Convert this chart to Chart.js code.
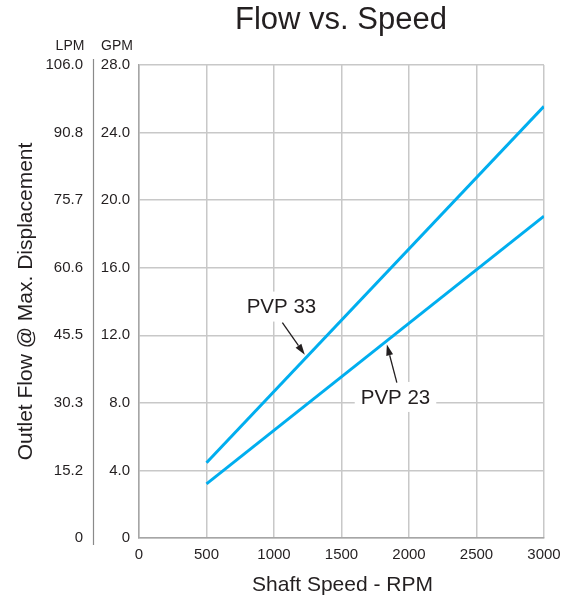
<!DOCTYPE html>
<html>
<head>
<meta charset="utf-8">
<script src="https://cdn.jsdelivr.net/npm/chart.js@4/dist/chart.umd.min.js"></script>
<style>
html,body{margin:0;padding:0;background:#fff;}
#wrap{width:569px;height:595px;}
</style>
</head>
<body>
<div id="wrap"><canvas id="c" width="569" height="595"></canvas></div>
<script>
// ---- data ----
const title = "Flow vs. Speed";
const xTitle = "Shaft Speed - RPM";
const yTitle = "Outlet Flow @ Max. Displacement";
const speedRPM = [500, 3000];
const pvp33GPM = [4.45, 25.55];
const pvp23GPM = [3.2, 19.05];
const rpmTicks = [0, 500, 1000, 1500, 2000, 2500, 3000];
const gpmTicks = [0, 4, 8, 12, 16, 20, 24, 28];
const lpmTicks = ["0", "15.2", "30.3", "45.5", "60.6", "75.7", "90.8", "106.0"];
const seriesNames = ["PVP 33", "PVP 23"];
// annotation anchors in data units: label centre, arrow tail, arrow head
const labelPVP33 = [1055, 13.7, 1062, 12.75, 1228, 10.85];
const labelPVP23 = [1900, 8.35, 1910, 9.2, 1836, 11.45];

const FONT = "'Liberation Sans', Arial, Helvetica, sans-serif";
const TXT = "#231f20";
const LINE = "#00aeef";
const GRID = "#c8c8c8";
const AXIS = "#a6a6a6";

const toPts = (xs, ys) => xs.map((x, i) => ({x: x, y: ys[i]}));

const overlay = {
  id: 'overlay',
  afterDraw(chart) {
    const ctx = chart.ctx;
    const xs = chart.scales.x, ys = chart.scales.y;
    const ca = chart.chartArea;
    ctx.save();
    ctx.fillStyle = TXT;
    ctx.textAlign = "center";
    ctx.textBaseline = "alphabetic";
    // title
    ctx.font = "31px " + FONT;
    ctx.fillText(title, (ca.left + ca.right) / 2 - 0.5, 29);
    // x title
    ctx.font = "21px " + FONT;
    ctx.fillText(xTitle, (ca.left + ca.right) / 2 + 1, 591);
    // y title
    ctx.save();
    ctx.translate(32, (ca.top + ca.bottom) / 2);
    ctx.rotate(-Math.PI / 2);
    ctx.font = "21px " + FONT;
    ctx.fillText(yTitle, 0, 0);
    ctx.restore();
    // axis headers
    ctx.font = "14px " + FONT;
    ctx.fillText("LPM", 70, 50);
    ctx.fillText("GPM", 117, 50);
    // separator line between LPM and GPM
    ctx.strokeStyle = "#8a8a8a";
    ctx.lineWidth = 1.2;
    ctx.beginPath();
    ctx.moveTo(93.5, ca.top - 6);
    ctx.lineTo(93.5, ca.bottom + 7);
    ctx.stroke();
    // annotations
    const drawLabel = (txt, a) => {
      const cx = xs.getPixelForValue(a[0]), cy = ys.getPixelForValue(a[1]);
      ctx.font = "20.5px " + FONT;
      const w = ctx.measureText(txt).width;
      ctx.fillStyle = "#fff";
      ctx.fillRect(cx - w / 2 - 6, cy - 15, w + 12, 30);
      ctx.fillStyle = TXT;
      ctx.textAlign = "center";
      ctx.textBaseline = "middle";
      ctx.fillText(txt, cx, cy + 1);
      const tx = xs.getPixelForValue(a[2]), ty = ys.getPixelForValue(a[3]);
      const hx = xs.getPixelForValue(a[4]), hy = ys.getPixelForValue(a[5]);
      const ang = Math.atan2(hy - ty, hx - tx);
      const hl = 11, hw = 3.5;
      const bx = hx - hl * Math.cos(ang), by = hy - hl * Math.sin(ang);
      ctx.strokeStyle = TXT;
      ctx.lineWidth = 1.3;
      ctx.beginPath();
      ctx.moveTo(tx, ty);
      ctx.lineTo(bx, by);
      ctx.stroke();
      ctx.beginPath();
      ctx.moveTo(hx, hy);
      ctx.lineTo(bx + hw * Math.sin(ang), by - hw * Math.cos(ang));
      ctx.lineTo(bx - hw * Math.sin(ang), by + hw * Math.cos(ang));
      ctx.closePath();
      ctx.fillStyle = TXT;
      ctx.fill();
    };
    drawLabel(seriesNames[0], labelPVP33);
    drawLabel(seriesNames[1], labelPVP23);
    ctx.restore();
  }
};

new Chart(document.getElementById('c'), {
  type: 'line',
  data: {
    datasets: [
      {label: seriesNames[0], data: toPts(speedRPM, pvp33GPM), borderColor: LINE, borderWidth: 3, pointRadius: 0, fill: false, tension: 0},
      {label: seriesNames[1], data: toPts(speedRPM, pvp23GPM), borderColor: LINE, borderWidth: 3, pointRadius: 0, fill: false, tension: 0}
    ]
  },
  options: {
    responsive: false,
    animation: false,
    devicePixelRatio: 1,
    layout: {padding: {top: 65, right: 25, bottom: 0, left: 0}},
    plugins: {legend: {display: false}, tooltip: {enabled: false}, title: {display: false}},
    scales: {
      x: {
        type: 'linear', min: 0, max: 3000,
        afterBuildTicks(s) { s.ticks = rpmTicks.map(v => ({value: v})); },
        ticks: {color: TXT, font: {family: FONT, size: 15}, padding: 8, callback: v => String(v)},
        grid: {color: GRID, lineWidth: 1.5, drawTicks: false},
        border: {color: AXIS, width: 1.5},
        afterFit(s) { s.height = 57; }
      },
      y: {
        position: 'left', min: 0, max: 28,
        afterBuildTicks(s) { s.ticks = gpmTicks.map(v => ({value: v})); },
        ticks: {color: TXT, font: {family: FONT, size: 15}, padding: 9,
          callback: v => v === 0 ? "0" : v.toFixed(1)},
        grid: {color: GRID, lineWidth: 1.5, drawTicks: false},
        border: {color: AXIS, width: 1.5},
        afterFit(s) { s.width = 46; }
      },
      y2: {
        position: 'left', min: 0, max: 28,
        afterBuildTicks(s) { s.ticks = gpmTicks.map(v => ({value: v})); },
        ticks: {color: TXT, font: {family: FONT, size: 15}, padding: 10,
          callback: (v, i) => lpmTicks[i]},
        grid: {display: false, drawTicks: false},
        border: {display: false},
        afterFit(s) { s.width = 93; }
      }
    }
  },
  plugins: [overlay]
});
</script>
</body>
</html>
